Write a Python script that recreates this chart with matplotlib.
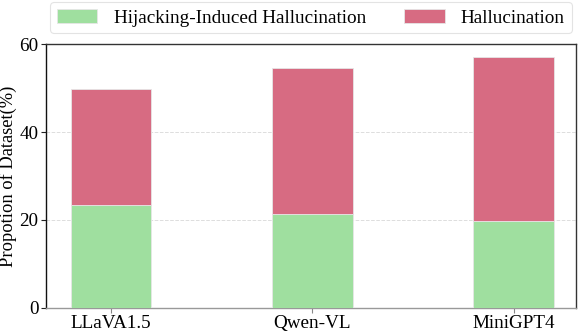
import matplotlib.pyplot as plt
import numpy as np

plt.rcParams['font.family'] = ['Liberation Serif', 'DejaVu Serif']

# data
models = ['LLaVA1.5', 'Qwen-VL', 'MiniGPT4']
hijack_induced = [23.5, 21.4, 19.75]
hallucination_total = [49.9, 54.6, 57.1]
hallucination_rest = [t - h for t, h in zip(hallucination_total, hijack_induced)]

green = '#9fdf9f'
pink = '#d76b82'
fs = 13.8

fig = plt.figure(figsize=(5.78, 3.32), dpi=100)
ax = fig.add_axes([0.0796, 0.0732, 0.917, 0.7934])

x = np.arange(len(models))
w = 0.4
ax.bar(x, hijack_induced, w, color=green, edgecolor='#e6e6e6', linewidth=0.6,
       label='Hijacking-Induced Hallucination', zorder=3)
ax.bar(x, hallucination_rest, w, bottom=hijack_induced, color=pink,
       edgecolor='#e6e6e6', linewidth=0.6, label='Hallucination', zorder=3)

ax.set_xlim(-0.322, 2.31)
ax.set_ylim(0, 60)
ax.set_yticks([0, 20, 40, 60])
ax.set_xticks(x)
ax.set_xticklabels(models)
ax.tick_params(labelsize=fs, length=3.5, width=0.8)
ax.tick_params(axis='x', color='#888888', pad=2)
ax.tick_params(axis='y', color='#222222', pad=2)
ax.set_ylabel('Propotion of Dataset(%)', fontsize=13.3)
ax.yaxis.set_label_coords(-0.055, 0.5)

ax.yaxis.grid(True, linestyle='--', color='#dddddd', linewidth=0.7, zorder=0)
ax.set_axisbelow(True)

ax.spines['left'].set_color('#111111')
ax.spines['top'].set_color('#333333')
ax.spines['right'].set_color('#333333')
ax.spines['bottom'].set_color('#999999')
for s in ax.spines.values():
    s.set_linewidth(1.0)

leg = ax.legend(loc='lower center', bbox_to_anchor=(0.5, 1.042), ncol=2,
                fontsize=fs, frameon=True, fancybox=True, handlelength=2.1,
                handletextpad=0.85, columnspacing=2.0, borderpad=0.35,
                borderaxespad=0)
leg.get_frame().set_edgecolor('#dddddd')
leg.get_frame().set_linewidth(0.8)

fig.savefig('out.png', dpi=100)
